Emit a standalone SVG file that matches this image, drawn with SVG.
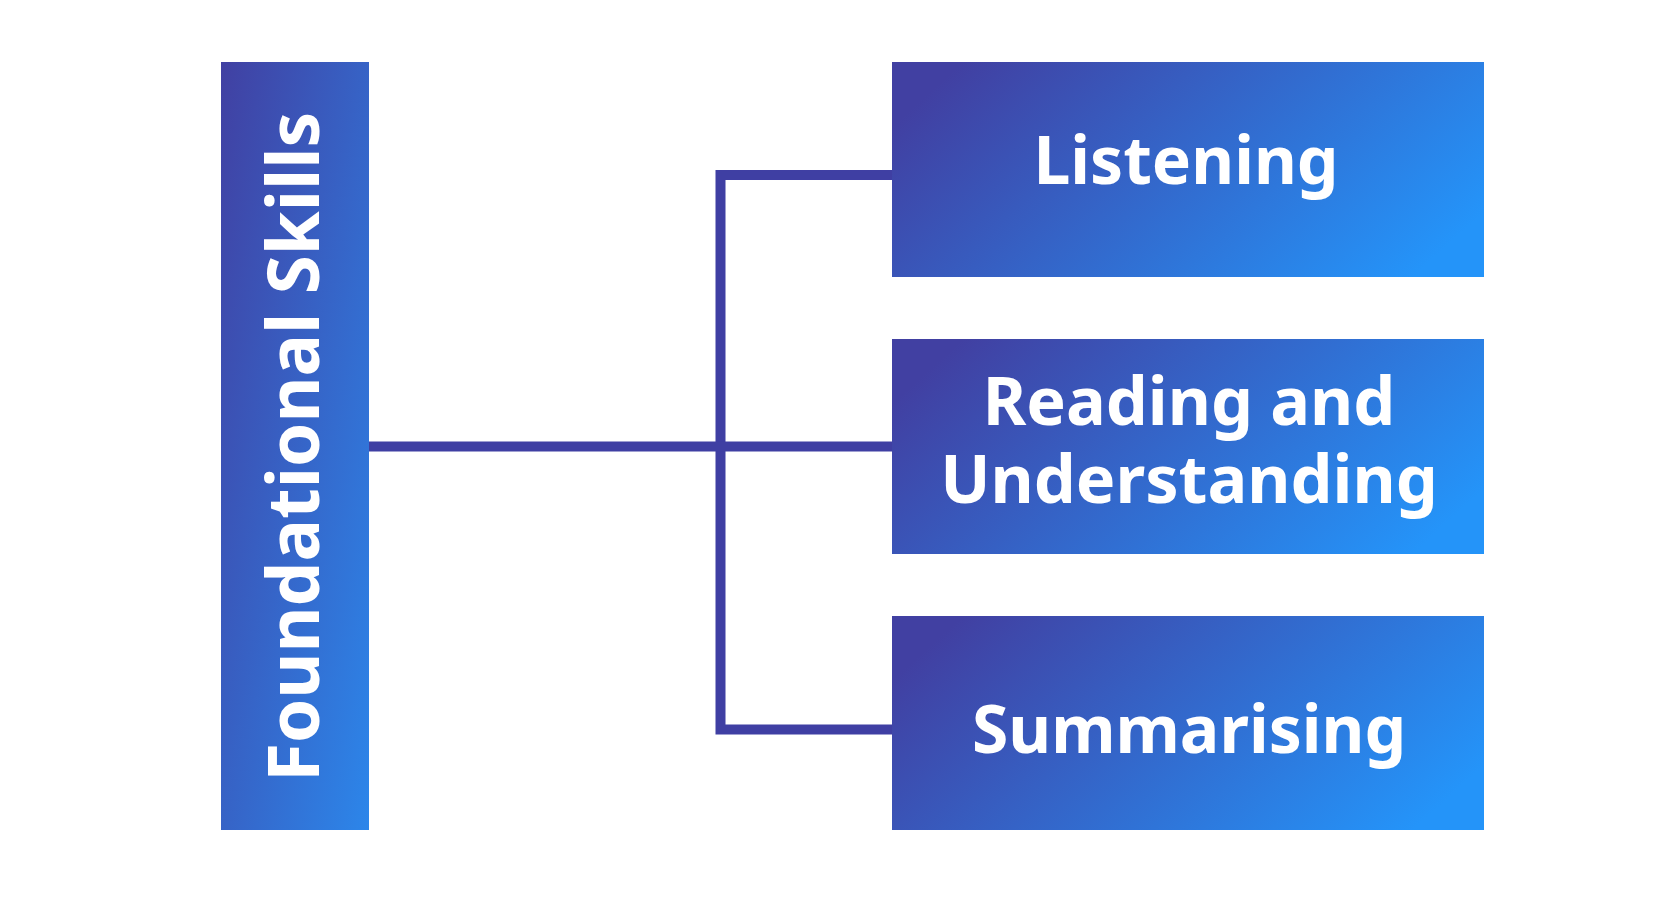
<svg xmlns="http://www.w3.org/2000/svg" width="1680" height="911" viewBox="0 0 1680 911">
<defs>
<linearGradient id="gTall" x1="0" y1="0" x2="1" y2="1">
<stop offset="0" stop-color="#4140A2"/>
<stop offset="1" stop-color="#2C86EA"/>
</linearGradient>
<linearGradient id="gWide" x1="0" y1="0.3" x2="1" y2="0.7">
<stop offset="0" stop-color="#4140A2"/>
<stop offset="1" stop-color="#2494F9"/>
</linearGradient>
<style>
.lbl{font-family:"Noto Sans","Open Sans","Liberation Sans",sans-serif;font-weight:700;fill:#ffffff;text-anchor:middle}
.conn{fill:none;stroke:#3F3FA3;stroke-width:10;stroke-linejoin:miter;stroke-linecap:butt}
</style>
</defs>
<rect width="1680" height="911" fill="#ffffff"/>
<g id="connectors">
<path class="conn" d="M892,175 H720.5 V729.5 H892"/>
<path class="conn" d="M369,446.5 H892"/>
</g>
<g id="node-foundational">
<rect x="221" y="62" width="148" height="768" fill="url(#gTall)"/>
<text class="lbl" font-size="71" transform="translate(319,447) rotate(-90)" x="0" y="0">Foundational Skills</text>
</g>
<g id="node-listening">
<rect x="892" y="62" width="592" height="215" fill="url(#gWide)"/>
<text class="lbl" font-size="66" x="1186" y="184">Listening</text>
</g>
<g id="node-reading">
<rect x="892" y="339" width="592" height="215" fill="url(#gWide)"/>
<text class="lbl" font-size="66.5" x="1189" y="425">Reading and</text>
<text class="lbl" font-size="66.5" x="1189" y="503">Understanding</text>
</g>
<g id="node-summarising">
<rect x="892" y="616" width="592" height="214" fill="url(#gWide)"/>
<text class="lbl" font-size="66" x="1189" y="753">Summarising</text>
</g>
</svg>
